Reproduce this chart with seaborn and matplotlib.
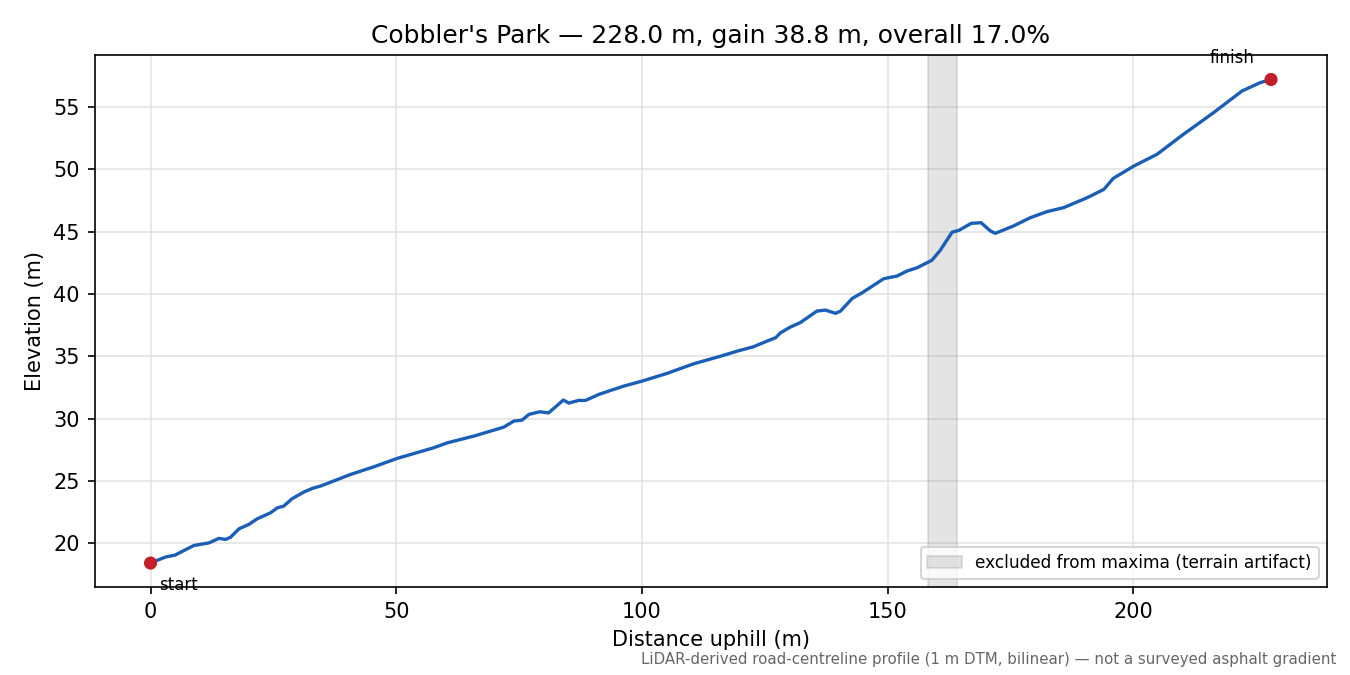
import pandas as pd
import numpy as np
import seaborn as sns
import matplotlib.pyplot as plt

# profile (distance along road, elevation)
distance = [0, 3, 5, 8.8, 11.9, 13.9, 15.3, 16.3, 18, 20,
            21.7, 24.4, 25.8, 27.1, 28.8, 31.2, 32.9, 34.6, 40.7, 45.4,
            50.2, 57.6, 60.4, 65.8, 69.2, 71.9, 73.9, 75.6, 77, 79.2,
            81, 84, 85.1, 87.1, 88.5, 91.2, 93.6, 96.3, 100, 105.1,
            110.5, 116, 119.4, 122.7, 125.5, 127.2, 128.2, 130.2, 132.2, 135.6,
            137.3, 139.4, 140.4, 142.8, 144.8, 149.2, 151.9, 153.9, 156, 159,
            160.7, 163.1, 164.5, 167, 169, 170.9, 171.9, 175.6, 179, 182.4,
            185.8, 190.6, 194, 195.9, 200.1, 204.8, 210.2, 216.3, 222.1, 225.8,
            228]
elevation = [18.4, 18.88, 19.04, 19.81, 20.02, 20.38, 20.3, 20.48, 21.15, 21.5,
             21.95, 22.43, 22.83, 22.97, 23.56, 24.1, 24.39, 24.58, 25.51, 26.12,
             26.8, 27.65, 28.05, 28.59, 28.99, 29.31, 29.79, 29.87, 30.33, 30.54,
             30.45, 31.48, 31.24, 31.45, 31.45, 31.93, 32.25, 32.6, 33.0, 33.62,
             34.39, 35.0, 35.41, 35.76, 36.22, 36.48, 36.88, 37.34, 37.69, 38.62,
             38.7, 38.44, 38.62, 39.64, 40.09, 41.22, 41.43, 41.83, 42.1, 42.7,
             43.5, 44.95, 45.1, 45.66, 45.71, 45.05, 44.86, 45.45, 46.11, 46.6,
             46.92, 47.72, 48.39, 49.27, 50.26, 51.2, 52.81, 54.54, 56.28, 56.95,
             57.2]
excluded = (158.2, 164.1)
park = "Cobbler's Park"

profile = pd.DataFrame({"dist": distance, "elev": elevation})
ends = profile.iloc[[0, -1]].copy()
ends["label"] = ["start", "finish"]

total = distance[-1]
gain = elevation[-1] - elevation[0]

fig, ax = plt.subplots(figsize=(9, 4.5), dpi=150)

ax.axvspan(excluded[0], excluded[1], color="#888888", alpha=0.22,
           label="excluded from maxima (terrain artifact)")
sns.lineplot(data=profile, x="dist", y="elev", ax=ax, color="#1b5eb5",
             linewidth=1.6, sort=False, estimator=None)
sns.scatterplot(data=ends, x="dist", y="elev", ax=ax, color="#c41e2a",
                s=40, edgecolor="none", zorder=5)

ax.annotate("start", (ends["dist"].iloc[0], ends["elev"].iloc[0]),
            xytext=(4, -6), textcoords="offset points", ha="left", va="top", fontsize=8)
ax.annotate("finish", (ends["dist"].iloc[1], ends["elev"].iloc[1]),
            xytext=(-8, 6), textcoords="offset points", ha="right", va="bottom", fontsize=8)

ax.grid(True, color="#dddddd", linewidth=0.8, alpha=0.8)
ax.set_axisbelow(True)
ax.set_xlabel("Distance uphill (m)")
ax.set_ylabel("Elevation (m)")
ax.set_title(f"{park} \u2014 {total:.1f} m, gain {gain:.1f} m, overall {gain / total * 100:.1f}%",
             fontsize=12)
ax.legend(loc="lower right", fontsize=8.2)

fig.text(0.99, 0.012, "LiDAR-derived road-centreline profile (1 m DTM, bilinear) \u2014 not a surveyed asphalt gradient",
         ha="right", va="bottom", fontsize=7.2, color="#666666")

fig.subplots_adjust(left=0.07, right=0.983, top=0.918, bottom=0.13)
plt.savefig("out.png", dpi=150)
